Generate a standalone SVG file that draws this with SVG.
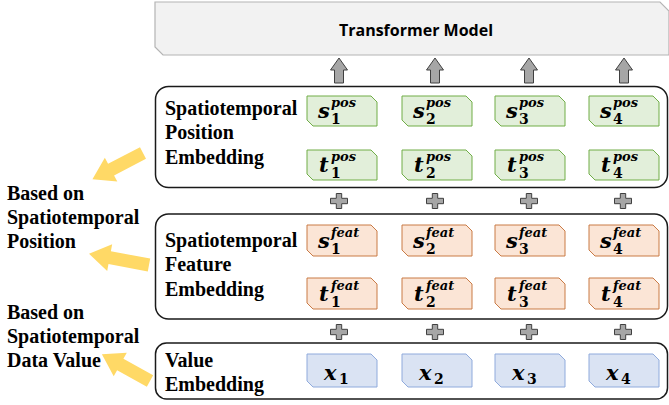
<svg xmlns="http://www.w3.org/2000/svg" xmlns:xlink="http://www.w3.org/1999/xlink" width="669" height="405" viewBox="0 0 669 405">
  <style>
    .panel { fill: #ffffff; stroke: #1a1a1a; stroke-width: 1.5; }
    .lbl { font-family: "Liberation Serif", "Times New Roman", serif; font-weight: bold; font-size: 20px; fill: #000; }
    .title { font-family: "Open Sans", "Liberation Sans", sans-serif; font-weight: bold; font-size: 16px; fill: #000; }
    .g { fill: #e2efda; stroke: #70ad47; stroke-width: 1; }
    .o { fill: #fbe5d6; stroke: #c97a45; stroke-width: 1; }
    .b { fill: #dae3f3; stroke: #8faadc; stroke-width: 1; }
    .m { font-family: "DejaVu Serif", "Liberation Serif", serif; font-weight: bold; font-style: italic; font-size: 21px; fill: #000; }
    .sup { font-family: "DejaVu Serif", "Liberation Serif", serif; font-weight: bold; font-style: italic; font-size: 13px; fill: #000; }
    .sub { font-family: "DejaVu Serif", "Liberation Serif", serif; font-weight: bold; font-size: 14px; fill: #000; }
    .up { fill: #a6a6a6; stroke: #404040; stroke-width: 1; }
    .plus { fill: #a6a6a6; stroke: #404040; stroke-width: 1; }
    .hint { fill: #ffd966; stroke: none; }
  </style>
  <defs>
    <!-- snipped-corner token boxes (top-right and bottom-left cut) -->
    <path id="snip30" d="M0,0 H64 L70,6 V30 H6 L0,24 Z"/>
    <path id="snip31" d="M0,0 H64 L70,6 V31 H6 L0,25 Z"/>
    <path id="snip33" d="M0,0 H64 L70,6 V33 H6 L0,27 Z"/>
    <path id="upArrow" d="M0,-12.5 L8.5,-0.5 H4.5 V12.5 H-4.5 V-0.5 H-8.5 Z"/>
    <path id="plusSign" d="M-2.7,-7.5 H2.7 V-2.7 H8.5 V2.7 H2.7 V7.5 H-2.7 V2.7 H-8.5 V-2.7 H-2.7 Z"/>
  </defs>

  <!-- transformer block -->
  <g id="transformer">
    <path d="M155,2 H660 L669,11 V55 H163 L155,47 Z" fill="#f2f2f2" stroke="#b4b4b4" stroke-width="1.2"/>
    <text class="title" x="416" y="36" text-anchor="middle">Transformer Model</text>
  </g>

  <!-- spatiotemporal position embedding -->
  <g id="pos-embedding">
    <rect class="panel" x="155.5" y="86.5" width="512" height="101" rx="13"/>
    <text class="lbl" x="165" y="115">Spatiotemporal</text>
    <text class="lbl" x="165" y="139">Position</text>
    <text class="lbl" x="165" y="164">Embedding</text>
  </g>
  <g id="s-pos-1"><use xlink:href="#snip30" class="g" x="307" y="96"/><text class="m" x="318" y="118">s</text><text class="sup" x="331" y="107">pos</text><text class="sub" x="331" y="124">1</text></g>
  <g id="s-pos-2"><use xlink:href="#snip30" class="g" x="402" y="96"/><text class="m" x="413" y="118">s</text><text class="sup" x="426" y="107">pos</text><text class="sub" x="426" y="124">2</text></g>
  <g id="s-pos-3"><use xlink:href="#snip30" class="g" x="495" y="96"/><text class="m" x="506" y="118">s</text><text class="sup" x="519" y="107">pos</text><text class="sub" x="519" y="124">3</text></g>
  <g id="s-pos-4"><use xlink:href="#snip30" class="g" x="589" y="96"/><text class="m" x="600" y="118">s</text><text class="sup" x="613" y="107">pos</text><text class="sub" x="613" y="124">4</text></g>
  <g id="t-pos-1"><use xlink:href="#snip30" class="g" x="307" y="150"/><text class="m" x="319" y="172">t</text><text class="sup" x="331" y="161">pos</text><text class="sub" x="331" y="178">1</text></g>
  <g id="t-pos-2"><use xlink:href="#snip30" class="g" x="402" y="150"/><text class="m" x="414" y="172">t</text><text class="sup" x="426" y="161">pos</text><text class="sub" x="426" y="178">2</text></g>
  <g id="t-pos-3"><use xlink:href="#snip30" class="g" x="495" y="150"/><text class="m" x="507" y="172">t</text><text class="sup" x="519" y="161">pos</text><text class="sub" x="519" y="178">3</text></g>
  <g id="t-pos-4"><use xlink:href="#snip30" class="g" x="589" y="150"/><text class="m" x="601" y="172">t</text><text class="sup" x="613" y="161">pos</text><text class="sub" x="613" y="178">4</text></g>

  <!-- spatiotemporal feature embedding -->
  <g id="feat-embedding">
    <rect class="panel" x="155.5" y="214" width="512" height="105" rx="13"/>
    <text class="lbl" x="165" y="247">Spatiotemporal</text>
    <text class="lbl" x="165" y="271">Feature</text>
    <text class="lbl" x="165" y="296">Embedding</text>
  </g>
  <g id="s-feat-1"><use xlink:href="#snip31" class="o" x="307" y="225"/><text class="m" x="318" y="248">s</text><text class="sup" x="331" y="237">feat</text><text class="sub" x="331" y="254">1</text></g>
  <g id="s-feat-2"><use xlink:href="#snip31" class="o" x="402" y="225"/><text class="m" x="413" y="248">s</text><text class="sup" x="426" y="237">feat</text><text class="sub" x="426" y="254">2</text></g>
  <g id="s-feat-3"><use xlink:href="#snip31" class="o" x="495" y="225"/><text class="m" x="506" y="248">s</text><text class="sup" x="519" y="237">feat</text><text class="sub" x="519" y="254">3</text></g>
  <g id="s-feat-4"><use xlink:href="#snip31" class="o" x="589" y="225"/><text class="m" x="600" y="248">s</text><text class="sup" x="613" y="237">feat</text><text class="sub" x="613" y="254">4</text></g>
  <g id="t-feat-1"><use xlink:href="#snip31" class="o" x="307" y="278"/><text class="m" x="319" y="301">t</text><text class="sup" x="331" y="290">feat</text><text class="sub" x="331" y="307">1</text></g>
  <g id="t-feat-2"><use xlink:href="#snip31" class="o" x="402" y="278"/><text class="m" x="414" y="301">t</text><text class="sup" x="426" y="290">feat</text><text class="sub" x="426" y="307">2</text></g>
  <g id="t-feat-3"><use xlink:href="#snip31" class="o" x="495" y="278"/><text class="m" x="507" y="301">t</text><text class="sup" x="519" y="290">feat</text><text class="sub" x="519" y="307">3</text></g>
  <g id="t-feat-4"><use xlink:href="#snip31" class="o" x="589" y="278"/><text class="m" x="601" y="301">t</text><text class="sup" x="613" y="290">feat</text><text class="sub" x="613" y="307">4</text></g>

  <!-- value embedding -->
  <g id="value-embedding">
    <rect class="panel" x="155.5" y="343" width="512" height="56" rx="11"/>
    <text class="lbl" x="165" y="367">Value</text>
    <text class="lbl" x="165" y="391">Embedding</text>
  </g>
  <g id="x-1"><use xlink:href="#snip33" class="b" x="307" y="354"/><text class="m" x="324" y="380">x</text><text class="sub" x="339" y="384">1</text></g>
  <g id="x-2"><use xlink:href="#snip33" class="b" x="402" y="354"/><text class="m" x="419" y="380">x</text><text class="sub" x="434" y="384">2</text></g>
  <g id="x-3"><use xlink:href="#snip33" class="b" x="495" y="354"/><text class="m" x="512" y="380">x</text><text class="sub" x="527" y="384">3</text></g>
  <g id="x-4"><use xlink:href="#snip33" class="b" x="589" y="354"/><text class="m" x="606" y="380">x</text><text class="sub" x="621" y="384">4</text></g>

  <!-- side notes -->
  <g id="note-position">
    <text class="lbl" x="7" y="200">Based on</text>
    <text class="lbl" x="7" y="224">Spatiotemporal</text>
    <text class="lbl" x="7" y="248">Position</text>
  </g>
  <g id="note-value">
    <text class="lbl" x="7" y="319">Based on</text>
    <text class="lbl" x="7" y="343">Spatiotemporal</text>
    <text class="lbl" x="7" y="367">Data Value</text>
  </g>

  <!-- connectors: upward arrows, plus signs, hint arrows -->
  <g id="connectors">
    <use xlink:href="#upArrow" class="up" x="339" y="70.5"/>
    <use xlink:href="#upArrow" class="up" x="435" y="70.5"/>
    <use xlink:href="#upArrow" class="up" x="529" y="70.5"/>
    <use xlink:href="#upArrow" class="up" x="624" y="70.5"/>

    <use xlink:href="#plusSign" class="plus" x="339" y="201"/>
    <use xlink:href="#plusSign" class="plus" x="435" y="201"/>
    <use xlink:href="#plusSign" class="plus" x="529" y="201"/>
    <use xlink:href="#plusSign" class="plus" x="623" y="201"/>
    <use xlink:href="#plusSign" class="plus" x="339" y="332"/>
    <use xlink:href="#plusSign" class="plus" x="435" y="332"/>
    <use xlink:href="#plusSign" class="plus" x="529" y="332"/>
    <use xlink:href="#plusSign" class="plus" x="623" y="332"/>

    <path class="hint" transform="translate(143,153) rotate(152.5)" d="M0,-6.5 H36 V-13.5 L57,0 L36,13.5 V6.5 H0 Z"/>
    <path class="hint" transform="translate(149,265) rotate(190.6)" d="M0,-6.5 H40 V-13.5 L61,0 L40,13.5 V6.5 H0 Z"/>
    <path class="hint" transform="translate(150,381) rotate(209)" d="M0,-6.5 H34 V-13.5 L55,0 L34,13.5 V6.5 H0 Z"/>
  </g>
</svg>
